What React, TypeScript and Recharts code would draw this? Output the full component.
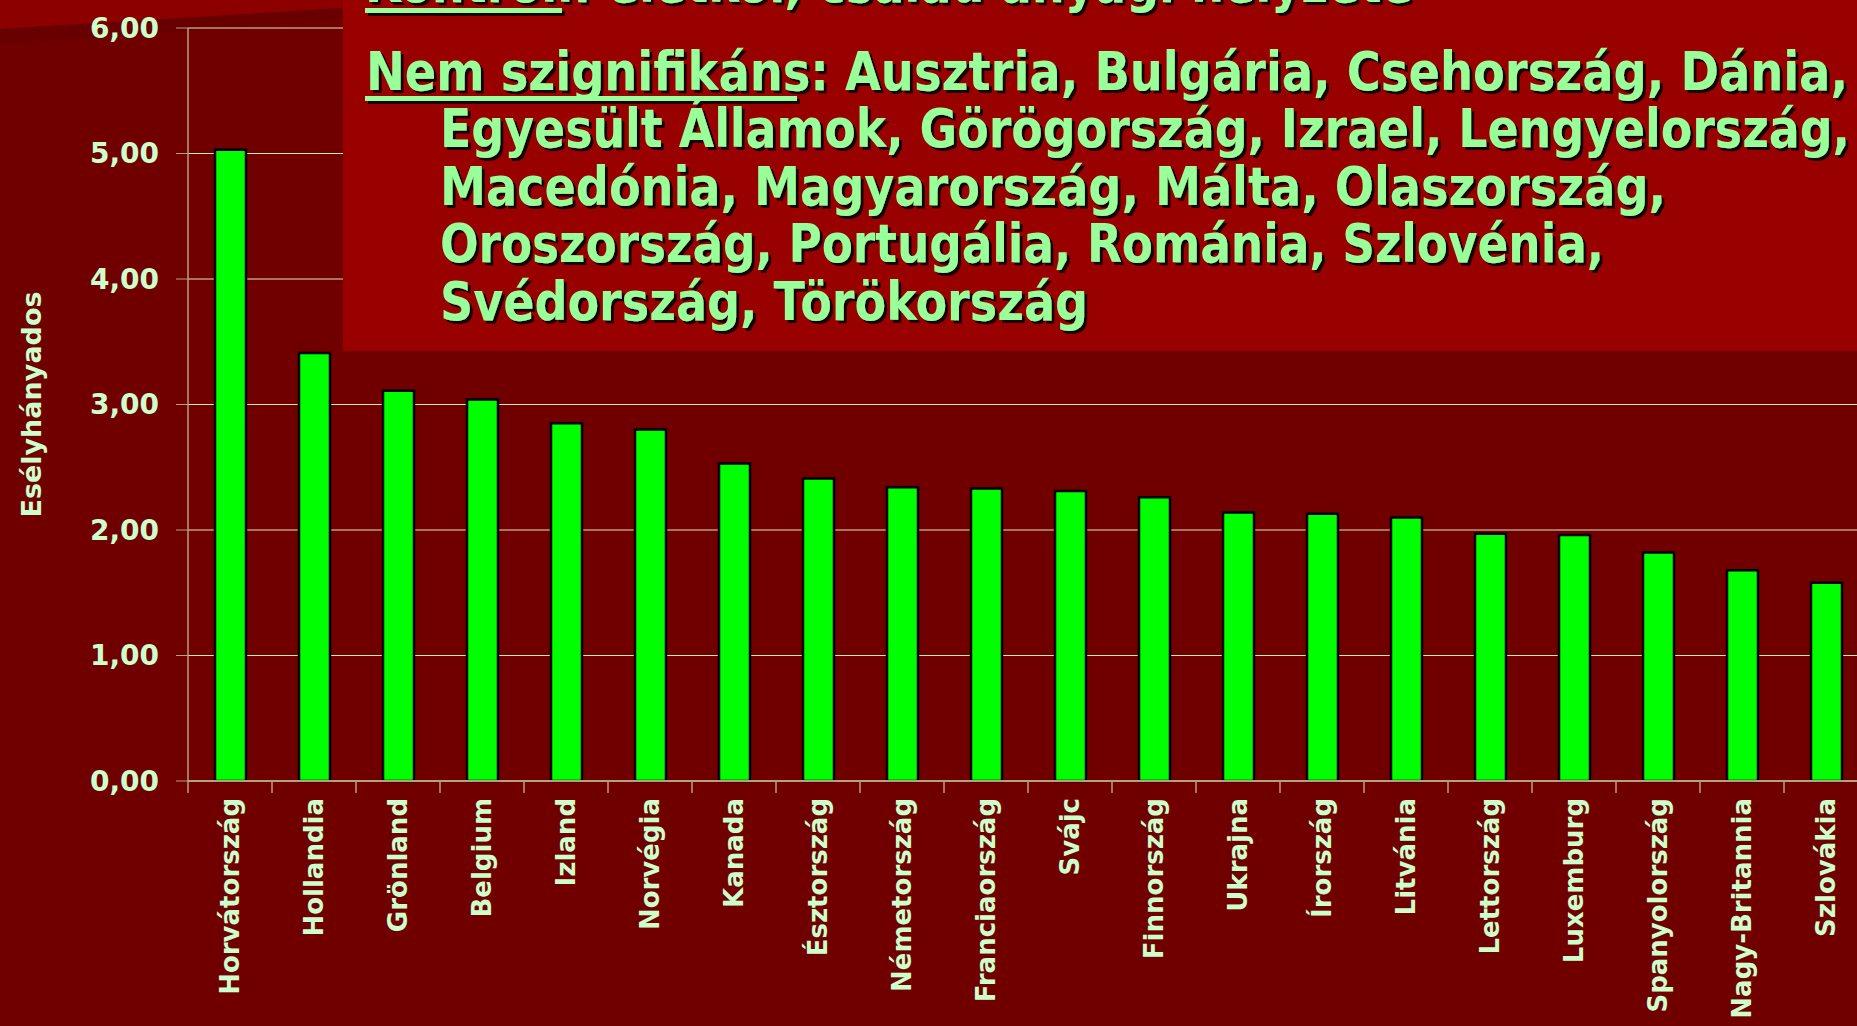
import React from "react";
import { Bar, BarChart, CartesianGrid, Label, XAxis, YAxis } from "recharts";

// countries, sorted by odds ratio
const countries = [
  "Horvátország",
  "Hollandia",
  "Grönland",
  "Belgium",
  "Izland",
  "Norvégia",
  "Kanada",
  "Észtország",
  "Németország",
  "Franciaország",
  "Svájc",
  "Finnország",
  "Ukrajna",
  "Írország",
  "Litvánia",
  "Lettország",
  "Luxemburg",
  "Spanyolország",
  "Nagy-Britannia",
  "Szlovákia"
];

const oddsRatios = [
  5.03, 3.41, 3.11, 3.04, 2.85, 2.8, 2.53, 2.41, 2.34, 2.33, 2.31, 2.26, 2.14, 2.13, 2.1, 1.97, 1.96, 1.82,
  1.68, 1.58
];

const yTicks = [0, 1, 2, 3, 4, 5, 6];

const noteLines = [
  "Kontroll: életkor, család anyagi helyzete",
  "Nem szignifikáns: Ausztria, Bulgária, Csehország, Dánia,",
  "Egyesült Államok, Görögország, Izrael, Lengyelország,",
  "Macedónia, Magyarország, Málta, Olaszország,",
  "Oroszország, Portugália, Románia, Szlovénia,",
  "Svédország, Törökország"
];

const chartData = countries.map((country, i) => ({ country, value: oddsRatios[i] }));

const LABEL_COLOR = "#ccffcc";
const AXIS_COLOR = "#b4a27e";
const FONT = "'DejaVu Sans', Verdana, sans-serif";

function CountryTick(props: any) {
  const { x, y, payload } = props;
  const half = payload?.offset ?? 42;
  return (
    <g>
      <line x1={x - half} y1={y - 17} x2={x - half} y2={y - 5} stroke={AXIS_COLOR} strokeWidth={1.5} />
      <text
        x={x}
        y={y}
        transform={`rotate(-90, ${x}, ${y})`}
        textAnchor="end"
        dominantBaseline="central"
        fill={LABEL_COLOR}
        fontFamily={FONT}
        fontWeight="bold"
        fontSize={26}
      >
        {payload.value}
      </text>
    </g>
  );
}

function NoteBox() {
  // x, baseline, textLength of each line in the red note box
  const layout = [
    [365, 2, 1048],
    [366, 90, 1482],
    [440, 147, 1410],
    [440, 205, 1226],
    [440, 262, 1164],
    [440, 320, 648]
  ];
  const textProps = {
    fontFamily: "'DejaVu Sans Condensed', 'DejaVu Sans', sans-serif",
    fontWeight: "bold" as const,
    fontSize: 54,
    lengthAdjust: "spacingAndGlyphs" as const
  };
  return (
    <svg width={1857} height={1026} style={{ position: "absolute", left: 0, top: 0, pointerEvents: "none" }}>
      <defs>
        <filter id="noteShadow" x="-5%" y="-20%" width="110%" height="140%">
          <feDropShadow dx={3} dy={3} stdDeviation={0.6} floodColor="#1a0000" floodOpacity={1} />
        </filter>
      </defs>
      <rect x={343} y={0} width={1514} height={351} fill="#990000" />
      <g filter="url(#noteShadow)">
        {noteLines.map((line, i) => {
          const [x, y, len] = layout[i];
          return (
            <text key={i} x={x} y={y} textLength={len} fill="#99ff99" {...textProps}>
              {line}
            </text>
          );
        })}
        <rect x={365} y={8} width={197} height={5} fill="#99ff99" />
        <rect x={365} y={96} width={432} height={5} fill="#99ff99" />
      </g>
    </svg>
  );
}

export default function App() {
  return (
    <div
      style={{
        position: "fixed",
        left: 0,
        top: 0,
        width: 1857,
        height: 1026,
        overflow: "hidden",
        background: "#700000"
      }}
    >
      <svg width={1857} height={1026} style={{ position: "absolute", left: 0, top: 0 }}>
        <polygon points="0,0 345,0 345,8 0,29" fill="#8c0000" />
        <polygon points="0,29 345,8 345,20 0,44" fill="#680000" />
      </svg>
      <div style={{ position: "absolute", left: 0, top: 0 }}>
        <BarChart width={1880} height={1026} data={chartData} margin={{ top: 28, right: 12, bottom: 0, left: 0 }}>
          <CartesianGrid vertical={false} stroke="#dcebc4" strokeWidth={1} />
          <XAxis
            dataKey="country"
            height={245}
            interval={0}
            tickSize={12}
            tickMargin={5}
            tickLine={false}
            axisLine={{ stroke: AXIS_COLOR, strokeWidth: 2 }}
            tick={<CountryTick />}
          />
          <YAxis
            width={188}
            domain={[0, 6]}
            ticks={yTicks}
            interval={0}
            tickSize={12}
            tickMargin={17}
            tickFormatter={(v: number) => v.toFixed(2).replace(".", ",")}
            tick={{ fill: LABEL_COLOR, fontFamily: FONT, fontWeight: "bold", fontSize: 28 }}
            tickLine={{ stroke: AXIS_COLOR }}
            axisLine={{ stroke: AXIS_COLOR, strokeWidth: 1.5 }}
          >
            <Label
              content={(p: any) => {
                const vb = p.viewBox || { x: 0, y: 28, height: 753 };
                const cx = vb.x + 31;
                const cy = vb.y + vb.height / 2;
                return (
                  <text
                    x={cx}
                    y={cy}
                    transform={`rotate(-90, ${cx}, ${cy})`}
                    textAnchor="middle"
                    dominantBaseline="central"
                    fill={LABEL_COLOR}
                    fontFamily={FONT}
                    fontWeight="bold"
                    fontSize={27}
                  >
                    Esélyhányados
                  </text>
                );
              }}
            />
          </YAxis>
          <Bar dataKey="value" fill="#00ff00" stroke="#000000" strokeWidth={2.5} barSize={31} isAnimationActive={false} />
        </BarChart>
      </div>
      <NoteBox />
    </div>
  );
}
